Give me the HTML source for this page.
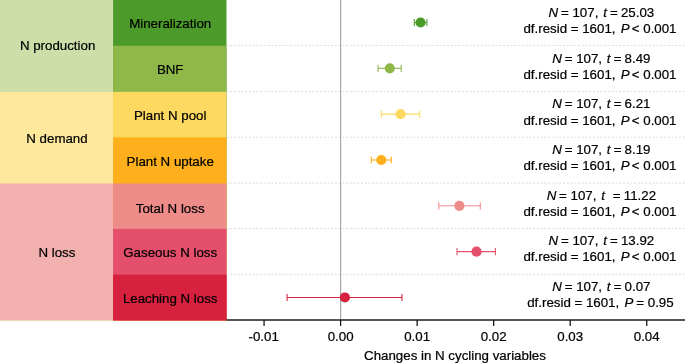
<!DOCTYPE html>
<html><head><meta charset="utf-8"><title>Changes in N cycling variables</title>
<style>
html,body{margin:0;padding:0;background:#fff;}
body{width:685px;height:363px;overflow:hidden;position:relative;}
svg{position:absolute;left:0;top:0;display:block;will-change:transform;}
text{font-family:"Liberation Sans",Arial,Helvetica,sans-serif;font-size:13.3px;fill:#000;stroke:#000;stroke-width:0.22px;text-anchor:middle;}
.i{font-style:italic;}
</style></head><body>
<svg width="685" height="363" viewBox="0 0 685 363">
<rect x="0" y="0.00" width="112.95" height="320.40" fill="#cddea9"/>
<rect x="0" y="91.85" width="112.95" height="228.55" fill="#fde89c"/>
<rect x="0" y="183.45" width="112.95" height="136.95" fill="#f2b0ae"/>
<rect x="113.05" y="0.00" width="113.45" height="320.40" fill="#4c9b2a"/>
<rect x="113.05" y="45.80" width="113.45" height="274.60" fill="#8fb84b"/>
<rect x="113.05" y="91.85" width="113.45" height="228.55" fill="#fdd961"/>
<rect x="113.05" y="137.35" width="113.45" height="183.05" fill="#fdb01c"/>
<rect x="113.05" y="183.45" width="113.45" height="136.95" fill="#ee8c8a"/>
<rect x="113.05" y="228.90" width="113.45" height="91.50" fill="#e4506b"/>
<rect x="113.05" y="274.65" width="113.45" height="45.75" fill="#d6213f"/>
<line x1="226.5" x2="685" y1="45.40" y2="45.40" stroke="#d5d5d5" stroke-width="0.9" stroke-dasharray="1.87 1.87"/>
<line x1="226.5" x2="685" y1="91.50" y2="91.50" stroke="#d5d5d5" stroke-width="0.9" stroke-dasharray="1.87 1.87"/>
<line x1="226.5" x2="685" y1="137.20" y2="137.20" stroke="#d5d5d5" stroke-width="0.9" stroke-dasharray="1.87 1.87"/>
<line x1="226.5" x2="685" y1="183.20" y2="183.20" stroke="#d5d5d5" stroke-width="0.9" stroke-dasharray="1.87 1.87"/>
<line x1="226.5" x2="685" y1="228.60" y2="228.60" stroke="#d5d5d5" stroke-width="0.9" stroke-dasharray="1.87 1.87"/>
<line x1="226.5" x2="685" y1="274.40" y2="274.40" stroke="#d5d5d5" stroke-width="0.9" stroke-dasharray="1.87 1.87"/>
<line x1="340.70000000000005" x2="340.70000000000005" y1="0" y2="320" stroke="#8a8a8a" stroke-width="0.9"/>
<line x1="226.5" x2="685" y1="319.95" y2="319.95" stroke="#1c1c1c" stroke-width="1.5"/>
<line x1="264.07" x2="264.07" y1="320" y2="325.95" stroke="#111" stroke-width="1.25"/>
<line x1="340.60" x2="340.60" y1="320" y2="325.95" stroke="#111" stroke-width="1.25"/>
<line x1="417.13" x2="417.13" y1="320" y2="325.95" stroke="#111" stroke-width="1.25"/>
<line x1="493.66" x2="493.66" y1="320" y2="325.95" stroke="#111" stroke-width="1.25"/>
<line x1="570.19" x2="570.19" y1="320" y2="325.95" stroke="#111" stroke-width="1.25"/>
<line x1="646.72" x2="646.72" y1="320" y2="325.95" stroke="#111" stroke-width="1.25"/>
<g stroke="#4c9b2a" fill="#4c9b2a"><line x1="414.3" x2="426.9" y1="22.50" y2="22.50" stroke-width="1.1"/><line x1="414.3" x2="414.3" y1="18.90" y2="26.10" stroke-width="1.05"/><line x1="426.9" x2="426.9" y1="18.90" y2="26.10" stroke-width="1.05"/><circle cx="420.55" cy="22.50" r="5.1" stroke="none"/></g>
<g stroke="#8fb84b" fill="#8fb84b"><line x1="378.1" x2="401.2" y1="68.33" y2="68.33" stroke-width="1.1"/><line x1="378.1" x2="378.1" y1="64.73" y2="71.93" stroke-width="1.05"/><line x1="401.2" x2="401.2" y1="64.73" y2="71.93" stroke-width="1.05"/><circle cx="389.8" cy="68.33" r="5.1" stroke="none"/></g>
<g stroke="#fdd961" fill="#fdd961"><line x1="381.3" x2="419.7" y1="114.16" y2="114.16" stroke-width="1.1"/><line x1="381.3" x2="381.3" y1="110.56" y2="117.76" stroke-width="1.05"/><line x1="419.7" x2="419.7" y1="110.56" y2="117.76" stroke-width="1.05"/><circle cx="400.6" cy="114.16" r="5.1" stroke="none"/></g>
<g stroke="#fdb01c" fill="#fdb01c"><line x1="371.3" x2="391.3" y1="159.99" y2="159.99" stroke-width="1.1"/><line x1="371.3" x2="371.3" y1="156.39" y2="163.59" stroke-width="1.05"/><line x1="391.3" x2="391.3" y1="156.39" y2="163.59" stroke-width="1.05"/><circle cx="381.3" cy="159.99" r="5.1" stroke="none"/></g>
<g stroke="#ee8c8a" fill="#ee8c8a"><line x1="438.8" x2="480.3" y1="205.82" y2="205.82" stroke-width="1.1"/><line x1="438.8" x2="438.8" y1="202.22" y2="209.42" stroke-width="1.05"/><line x1="480.3" x2="480.3" y1="202.22" y2="209.42" stroke-width="1.05"/><circle cx="459.4" cy="205.82" r="5.1" stroke="none"/></g>
<g stroke="#e4506b" fill="#e4506b"><line x1="457.0" x2="495.4" y1="251.65" y2="251.65" stroke-width="1.1"/><line x1="457.0" x2="457.0" y1="248.05" y2="255.25" stroke-width="1.05"/><line x1="495.4" x2="495.4" y1="248.05" y2="255.25" stroke-width="1.05"/><circle cx="476.5" cy="251.65" r="5.1" stroke="none"/></g>
<g stroke="#d6213f" fill="#d6213f"><line x1="287.1" x2="402.0" y1="297.48" y2="297.48" stroke-width="1.1"/><line x1="287.1" x2="287.1" y1="293.88" y2="301.08" stroke-width="1.05"/><line x1="402.0" x2="402.0" y1="293.88" y2="301.08" stroke-width="1.05"/><circle cx="344.9" cy="297.48" r="5.1" stroke="none"/></g>
<text x="57.6" y="50.35">N production</text>
<text x="57.0" y="142.6">N demand</text>
<text x="56.9" y="256.9">N loss</text>
<text x="170.2" y="28.40">Mineralization</text>
<text x="600.5" y="17.00"><tspan class="i" dx="0.9">N</tspan><tspan dx="-0.9"> = 107, </tspan><tspan class="i" dx="1.1">t</tspan><tspan dx="-0.6"> = </tspan><tspan dx="-0.5">25.03</tspan></text>
<text x="600" y="33.20">df.resid = 1601, <tspan class="i" dx="1.5">P</tspan><tspan dx="-1.5"> &lt; 0.001</tspan></text>
<text x="170.2" y="73.65">BNF</text>
<text x="600.5" y="62.65"><tspan class="i" dx="0.9">N</tspan><tspan dx="-0.9"> = 107, </tspan><tspan class="i" dx="1.1">t</tspan><tspan dx="-0.6"> = </tspan><tspan dx="-0.5">8.49</tspan></text>
<text x="600" y="78.85">df.resid = 1601, <tspan class="i" dx="1.5">P</tspan><tspan dx="-1.5"> &lt; 0.001</tspan></text>
<text x="170.2" y="119.90">Plant N pool</text>
<text x="600.5" y="108.30"><tspan class="i" dx="0.9">N</tspan><tspan dx="-0.9"> = 107, </tspan><tspan class="i" dx="1.1">t</tspan><tspan dx="-0.6"> = </tspan><tspan dx="-0.5">6.21</tspan></text>
<text x="600" y="124.50">df.resid = 1601, <tspan class="i" dx="1.5">P</tspan><tspan dx="-1.5"> &lt; 0.001</tspan></text>
<text x="170.2" y="165.90">Plant N uptake</text>
<text x="600.5" y="153.95"><tspan class="i" dx="0.9">N</tspan><tspan dx="-0.9"> = 107, </tspan><tspan class="i" dx="1.1">t</tspan><tspan dx="-0.6"> = </tspan><tspan dx="-0.5">8.19</tspan></text>
<text x="600" y="170.15">df.resid = 1601, <tspan class="i" dx="1.5">P</tspan><tspan dx="-1.5"> &lt; 0.001</tspan></text>
<text x="170.2" y="212.80">Total N loss</text>
<text x="600.5" y="199.60"><tspan class="i" dx="0.9">N</tspan><tspan dx="-0.9"> = 107, </tspan><tspan class="i" dx="1.1">t</tspan><tspan dx="4.2"> = </tspan><tspan dx="-0.5">11.22</tspan></text>
<text x="600" y="215.80">df.resid = 1601, <tspan class="i" dx="1.5">P</tspan><tspan dx="-1.5"> &lt; 0.001</tspan></text>
<text x="170.2" y="257.20">Gaseous N loss</text>
<text x="600.5" y="245.25"><tspan class="i" dx="0.9">N</tspan><tspan dx="-0.9"> = 107, </tspan><tspan class="i" dx="1.1">t</tspan><tspan dx="-0.6"> = </tspan><tspan dx="-0.5">13.92</tspan></text>
<text x="600" y="261.45">df.resid = 1601, <tspan class="i" dx="1.5">P</tspan><tspan dx="-1.5"> &lt; 0.001</tspan></text>
<text x="170.2" y="302.90">Leaching N loss</text>
<text x="600.5" y="290.90"><tspan class="i" dx="0.9">N</tspan><tspan dx="-0.9"> = 107, </tspan><tspan class="i" dx="1.1">t</tspan><tspan dx="-0.6"> = </tspan><tspan dx="-0.5">0.07</tspan></text>
<text x="600.4" y="307.10">df.resid = 1601, <tspan class="i" dx="1.5">P</tspan><tspan dx="-0.7"> = 0.95</tspan></text>
<text x="263.67" y="340.9">-0.01</text>
<text x="340.60" y="340.9">0.00</text>
<text x="417.13" y="340.9">0.01</text>
<text x="493.66" y="340.9">0.02</text>
<text x="570.19" y="340.9">0.03</text>
<text x="646.72" y="340.9">0.04</text>
<text x="455" y="360.2">Changes in N cycling variables</text>
</svg>
</body></html>
